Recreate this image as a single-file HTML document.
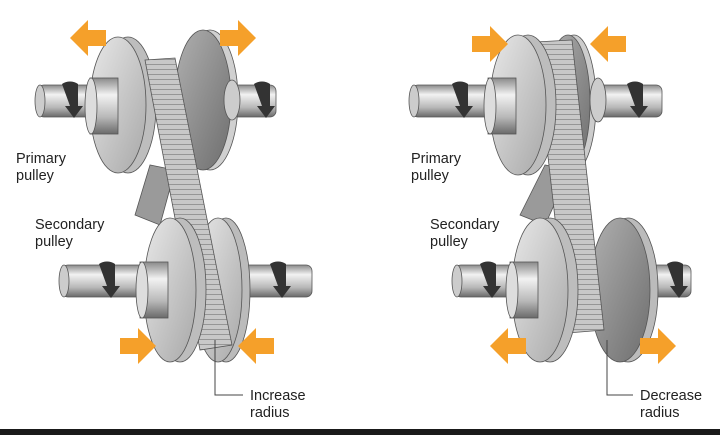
<!DOCTYPE html>
<html><head><meta charset="utf-8"><style>
html,body{margin:0;padding:0;background:#fff;}
svg{display:block;}
text{font-family:"Liberation Sans",sans-serif;font-size:14.5px;fill:#222;}
</style></head><body>
<svg width="720" height="435" viewBox="0 0 720 435" xmlns="http://www.w3.org/2000/svg">
<defs>
<linearGradient id="sh" x1="0" y1="0" x2="0" y2="1">
<stop offset="0" stop-color="#8a8a8a"/><stop offset="0.3" stop-color="#f2f2f2"/><stop offset="0.7" stop-color="#b8b8b8"/><stop offset="1" stop-color="#6a6a6a"/></linearGradient>
<linearGradient id="disc" x1="0" y1="0" x2="1" y2="1">
<stop offset="0" stop-color="#e8e8e8"/><stop offset="1" stop-color="#a8a8a8"/></linearGradient>
<linearGradient id="dark" x1="0" y1="0" x2="1" y2="1">
<stop offset="0" stop-color="#b0b0b0"/><stop offset="1" stop-color="#6e6e6e"/></linearGradient>
<pattern id="belt" width="8" height="5" patternUnits="userSpaceOnUse">
<rect width="8" height="5" fill="#c8c8c8"/><line x1="0" y1="4.5" x2="8" y2="4.5" stroke="#8a8a8a" stroke-width="0.8"/></pattern>
<g id="rot"><path d="M-8,-14 a14,14 0 0 1 16,0 l0,22 l5,0 l-9,12 l-9,-12 l5,0z" fill="#333"/></g>
<g id="arR"><path d="M0,8 h18 v-10 l18,18 l-18,18 v-10 h-18z" fill="#f5a02a"/></g>
<g id="arL"><path d="M36,8 h-18 v-10 l-18,18 l18,18 v-10 h18z" fill="#f5a02a"/></g>
</defs>

<!-- ===== LEFT ===== -->
<rect x="38" y="85" width="238" height="32" rx="6" fill="url(#sh)" stroke="#555" stroke-width="0.8"/>
<ellipse cx="40" cy="101" rx="5" ry="16" fill="#ccc" stroke="#555" stroke-width="0.8"/>
<path d="M150,165 L135,215 L160,225 L175,170z" fill="#9a9a9a" stroke="#555" stroke-width="0.8"/>
<!-- primary right disc -->
<ellipse cx="210" cy="100" rx="28" ry="70" fill="#d0d0d0" stroke="#555" stroke-width="0.8"/>
<ellipse cx="203" cy="100" rx="28" ry="70" fill="url(#dark)" stroke="#555" stroke-width="0.8"/>
<ellipse cx="232" cy="100" rx="8" ry="20" fill="#ccc" stroke="#555" stroke-width="0.8"/>
<!-- primary left disc -->
<ellipse cx="128" cy="105" rx="28" ry="68" fill="#bdbdbd" stroke="#555" stroke-width="0.8"/>
<ellipse cx="118" cy="105" rx="28" ry="68" fill="url(#disc)" stroke="#555" stroke-width="0.8"/>
<rect x="90" y="78" width="28" height="56" fill="url(#sh)" stroke="#555" stroke-width="0.8"/>
<ellipse cx="91" cy="106" rx="6" ry="28" fill="#ddd" stroke="#555" stroke-width="0.8"/>
<!-- secondary shaft -->
<rect x="62" y="265" width="250" height="32" rx="6" fill="url(#sh)" stroke="#555" stroke-width="0.8"/>
<ellipse cx="64" cy="281" rx="5" ry="16" fill="#ccc" stroke="#555" stroke-width="0.8"/>
<!-- secondary right disc -->
<ellipse cx="226" cy="290" rx="24" ry="72" fill="#bbb" stroke="#555" stroke-width="0.8"/>
<ellipse cx="218" cy="290" rx="24" ry="72" fill="url(#disc)" stroke="#555" stroke-width="0.8"/>
<!-- belt front strand -->
<path d="M145,60 L175,58 L232,345 L200,350z" fill="url(#belt)" stroke="#555" stroke-width="0.8"/>
<!-- secondary left disc -->
<ellipse cx="180" cy="290" rx="26" ry="72" fill="#bdbdbd" stroke="#555" stroke-width="0.8"/>
<ellipse cx="170" cy="290" rx="26" ry="72" fill="url(#disc)" stroke="#555" stroke-width="0.8"/>
<rect x="140" y="262" width="28" height="56" fill="url(#sh)" stroke="#555" stroke-width="0.8"/>
<ellipse cx="142" cy="290" rx="6" ry="28" fill="#ddd" stroke="#555" stroke-width="0.8"/>
<use href="#rot" x="70" y="98"/><use href="#rot" x="262" y="98"/>
<use href="#rot" x="107" y="278"/><use href="#rot" x="278" y="278"/>
<use href="#arL" x="70" y="22"/><use href="#arR" x="220" y="22"/>
<use href="#arR" x="120" y="330"/><use href="#arL" x="238" y="330"/>
<text x="16" y="163">Primary</text><text x="16" y="180">pulley</text>
<text x="35" y="229">Secondary</text><text x="35" y="246">pulley</text>
<polyline points="215,340 215,395 243,395" fill="none" stroke="#444" stroke-width="1"/>
<text x="250" y="400">Increase</text><text x="250" y="417">radius</text>

<!-- ===== RIGHT ===== -->
<rect x="412" y="85" width="250" height="32" rx="6" fill="url(#sh)" stroke="#555" stroke-width="0.8"/>
<ellipse cx="414" cy="101" rx="5" ry="16" fill="#ccc" stroke="#555" stroke-width="0.8"/>
<path d="M545,165 L520,215 L545,225 L570,170z" fill="#9a9a9a" stroke="#555" stroke-width="0.8"/>
<ellipse cx="574" cy="103" rx="22" ry="68" fill="#ccc" stroke="#555" stroke-width="0.8"/>
<ellipse cx="568" cy="103" rx="22" ry="68" fill="url(#dark)" stroke="#555" stroke-width="0.8"/>
<ellipse cx="598" cy="100" rx="8" ry="22" fill="#ccc" stroke="#555" stroke-width="0.8"/>
<rect x="455" y="265" width="236" height="32" rx="6" fill="url(#sh)" stroke="#555" stroke-width="0.8"/>
<ellipse cx="457" cy="281" rx="5" ry="16" fill="#ccc" stroke="#555" stroke-width="0.8"/>
<ellipse cx="628" cy="290" rx="30" ry="72" fill="#bbb" stroke="#555" stroke-width="0.8"/>
<ellipse cx="620" cy="290" rx="30" ry="72" fill="url(#dark)" stroke="#555" stroke-width="0.8"/>
<path d="M535,42 L572,40 L604,330 L568,333z" fill="url(#belt)" stroke="#555" stroke-width="0.8"/>
<ellipse cx="528" cy="105" rx="28" ry="70" fill="#bdbdbd" stroke="#555" stroke-width="0.8"/>
<ellipse cx="518" cy="105" rx="28" ry="70" fill="url(#disc)" stroke="#555" stroke-width="0.8"/>
<rect x="488" y="78" width="28" height="56" fill="url(#sh)" stroke="#555" stroke-width="0.8"/>
<ellipse cx="490" cy="106" rx="6" ry="28" fill="#ddd" stroke="#555" stroke-width="0.8"/>
<ellipse cx="550" cy="290" rx="28" ry="72" fill="#bdbdbd" stroke="#555" stroke-width="0.8"/>
<ellipse cx="540" cy="290" rx="28" ry="72" fill="url(#disc)" stroke="#555" stroke-width="0.8"/>
<rect x="510" y="262" width="28" height="56" fill="url(#sh)" stroke="#555" stroke-width="0.8"/>
<ellipse cx="512" cy="290" rx="6" ry="28" fill="#ddd" stroke="#555" stroke-width="0.8"/>
<use href="#rot" x="460" y="98"/><use href="#rot" x="635" y="98"/>
<use href="#rot" x="488" y="278"/><use href="#rot" x="675" y="278"/>
<use href="#arR" x="472" y="28"/><use href="#arL" x="590" y="28"/>
<use href="#arL" x="490" y="330"/><use href="#arR" x="640" y="330"/>
<text x="411" y="163">Primary</text><text x="411" y="180">pulley</text>
<text x="430" y="229">Secondary</text><text x="430" y="246">pulley</text>
<polyline points="607,340 607,395 633,395" fill="none" stroke="#444" stroke-width="1"/>
<text x="640" y="400">Decrease</text><text x="640" y="417">radius</text>

<rect x="0" y="429" width="720" height="6" fill="#1a1a1a"/>
</svg>
</body></html>
